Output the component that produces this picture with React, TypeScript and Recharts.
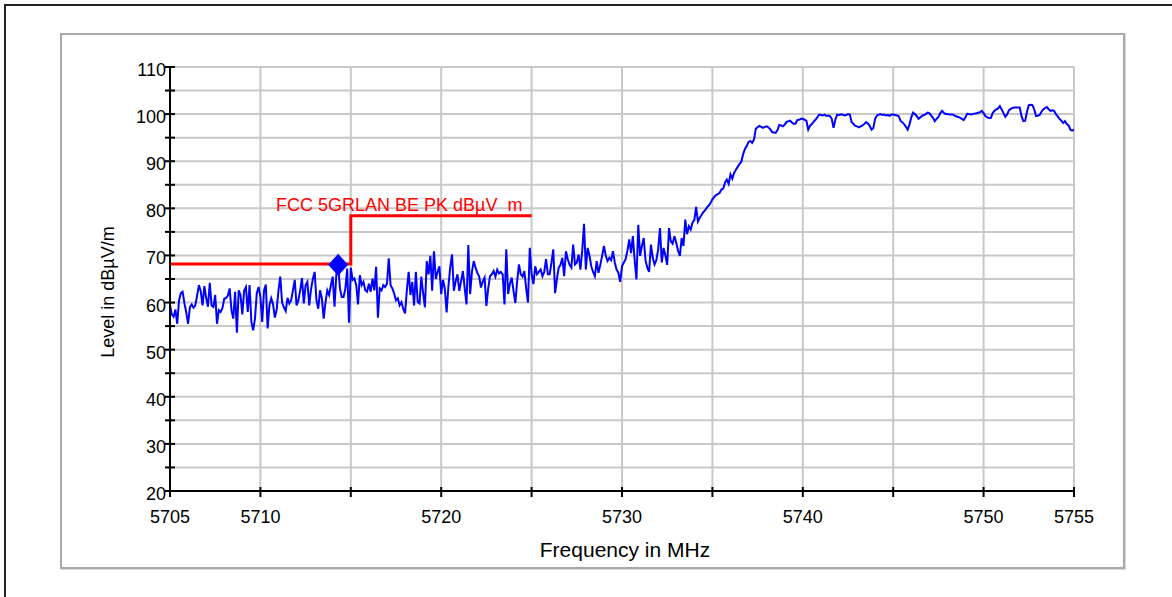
import React from 'react';
import { ComposedChart, Line, Scatter, XAxis, YAxis, CartesianGrid } from 'recharts';

const FONT = '"Liberation Sans", Arial, Helvetica, sans-serif';

// sweep grid of the analyzer: 5705 .. 5755 MHz in 0.1 MHz steps
const SWEEP_START = 5705;
const SWEEP_STEP = 0.1;

// measured level in dBµV/m, one row per MHz
const levels = [
  59.5, 57.5, 57.0, 58.5, 55.5, 60.5, 62.0, 62.3, 59.8, 57.9, // 5705
  55.5, 59.0, 59.6, 58.9, 59.4, 61.5, 63.7, 62.4, 59.4, 63.5, // 5706
  61.0, 59.1, 64.2, 59.4, 59.1, 61.6, 55.5, 58.4, 58.0, 58.8, // 5707
  60.8, 61.0, 61.5, 63.0, 58.4, 56.6, 62.3, 53.6, 62.6, 61.6, // 5708
  57.5, 62.5, 63.3, 58.0, 63.7, 55.9, 54.1, 56.6, 62.0, 63.3, // 5709
  61.2, 55.9, 62.5, 63.8, 54.5, 59.4, 60.9, 59.6, 56.8, 58.5, // 5710
  62.6, 65.5, 60.0, 59.0, 58.2, 61.0, 59.8, 60.5, 62.6, 64.8, // 5711
  59.4, 60.5, 62.6, 65.2, 59.8, 63.7, 64.4, 59.4, 62.8, 65.0, // 5712
  66.5, 60.5, 58.7, 62.6, 60.9, 56.6, 60.1, 62.6, 61.6, 63.7, // 5713
  65.5, 59.1, 66.0, 68.0, 63.0, 61.2, 61.2, 63.0, 67.2, 55.7, // 5714
  67.4, 64.8, 65.1, 63.7, 59.6, 65.8, 63.7, 64.4, 62.6, 62.3, // 5715
  64.0, 62.3, 65.1, 62.6, 67.6, 56.8, 63.0, 62.6, 63.7, 63.3, // 5716
  64.0, 69.4, 63.7, 63.0, 61.9, 60.5, 60.9, 59.4, 60.1, 58.7, // 5717
  57.7, 62.6, 66.5, 61.6, 64.4, 59.4, 66.5, 60.1, 59.8, 65.5, // 5718
  62.0, 59.0, 68.8, 66.0, 69.9, 62.5, 70.9, 65.0, 66.5, 67.7, // 5719
  61.8, 64.8, 63.0, 57.9, 63.5, 67.5, 70.2, 62.5, 64.5, 66.0, // 5720
  62.5, 64.5, 66.7, 63.0, 59.6, 72.2, 61.8, 66.5, 68.8, 67.4, // 5721
  66.3, 65.5, 63.2, 64.5, 65.3, 59.3, 63.0, 65.6, 66.0, 66.7, // 5722
  65.5, 67.0, 66.2, 66.5, 66.0, 59.6, 71.3, 61.8, 64.0, 65.3, // 5723
  62.5, 59.9, 64.5, 68.1, 66.0, 65.5, 66.7, 63.0, 60.0, 71.6, // 5724
  66.0, 63.9, 67.7, 66.0, 66.5, 67.0, 65.6, 66.5, 69.2, 66.0, // 5725
  66.0, 68.5, 71.3, 62.0, 65.0, 67.4, 68.0, 69.5, 65.6, 70.9, // 5726
  69.2, 68.0, 67.4, 72.3, 68.1, 68.5, 70.2, 67.0, 71.0, 76.7, // 5727
  67.0, 71.6, 70.0, 67.7, 66.5, 65.6, 68.8, 66.3, 68.0, 69.9, // 5728
  72.0, 70.0, 68.8, 69.5, 69.0, 70.9, 68.5, 67.0, 66.3, 64.4, // 5729
  67.7, 68.5, 69.2, 71.0, 73.4, 70.5, 74.1, 69.0, 64.9, 76.5, // 5730
  69.9, 72.0, 73.7, 69.0, 67.4, 66.5, 72.3, 69.5, 68.1, 69.0, // 5731
  71.3, 75.8, 68.5, 71.6, 70.0, 68.0, 75.8, 73.0, 72.5, 74.1, // 5732
  72.7, 71.0, 69.9, 73.7, 72.0, 77.6, 74.5, 76.2, 75.5, 77.0, // 5733
  77.5, 80.3, 77.2, 78.0, 78.6, 79.2, 79.6, 80.2, 80.6, 81.2, // 5734
  81.9, 82.4, 82.8, 83.0, 83.3, 84.0, 84.2, 85.5, 86.1, 85.2, // 5735
  87.2, 86.3, 87.5, 88.2, 88.8, 89.4, 89.9, 91.5, 92.6, 93.2, // 5736
  94.1, 94.3, 93.9, 94.6, 96.9, 97.2, 97.5, 97.3, 97.1, 97.3, // 5737
  97.4, 97.2, 96.8, 96.2, 96.1, 96.0, 96.6, 97.7, 97.6, 97.4, // 5738
  97.8, 98.3, 98.5, 98.6, 98.2, 97.9, 98.0, 98.75, 98.8, 99.0, // 5739
  99.0, 98.8, 98.6, 96.7, 97.5, 97.9, 98.4, 98.8, 99.3, 99.9, // 5740
  99.8, 99.7, 99.9, 99.6, 99.7, 99.6, 99.0, 97.1, 98.8, 99.9, // 5741
  99.8, 99.9, 99.9, 99.7, 99.8, 100.0, 99.9, 98.3, 97.9, 97.5, // 5742
  97.4, 97.2, 97.4, 97.6, 97.9, 98.3, 98.0, 97.5, 96.7, 97.0, // 5743
  99.0, 99.7, 99.9, 100.0, 99.8, 99.9, 99.7, 99.8, 99.65, 99.9, // 5744
  99.9, 99.8, 99.7, 99.6, 98.6, 98.3, 97.9, 97.3, 96.7, 97.8, // 5745
  99.3, 100.3, 100.0, 99.6, 99.0, 99.3, 99.65, 99.8, 100.0, 100.3, // 5746
  100.2, 99.7, 99.2, 98.5, 99.0, 99.4, 100.2, 100.7, 100.3, 100.0, // 5747
  100.0, 99.9, 99.9, 99.9, 99.7, 99.5, 99.4, 99.2, 99.0, 98.75, // 5748
  99.4, 100.1, 100.0, 99.9, 100.0, 100.1, 100.2, 100.3, 100.4, 100.7, // 5749
  100.2, 99.6, 99.3, 99.2, 99.2, 100.2, 100.7, 101.0, 101.2, 101.7, // 5750
  101.0, 100.2, 99.4, 99.9, 100.8, 101.1, 101.3, 101.4, 101.4, 101.4, // 5751
  101.4, 99.5, 98.5, 98.6, 100.5, 101.9, 102.0, 101.9, 101.0, 99.6, // 5752
  99.65, 99.8, 100.5, 101.0, 101.3, 101.5, 101.0, 100.7, 100.8, 100.7, // 5753
  100.0, 99.5, 99.0, 98.6, 98.1, 98.5, 97.9, 97.6, 96.7, 96.5, // 5754
  96.7, // 5755
];

// limit line (FCC 5GRLAN BE PK)
const limitFreqs = [5705, 5715, 5715, 5725];
const limitLevels = [68.2, 68.2, 78.4, 78.4];
const limitName = 'FCC 5GRLAN BE PK dBµV  m';

// marker
const markerFreqs = [5714.3];
const markerLevels = [68.0];

const xTicks = [5705, 5710, 5715, 5720, 5725, 5730, 5735, 5740, 5745, 5750, 5755];
const xLabelTicks = [5705, 5710, 5720, 5730, 5740, 5750, 5755];
const yTicks = [20, 25, 30, 35, 40, 45, 50, 55, 60, 65, 70, 75, 80, 85, 90, 95, 100, 105, 110];
const yLabelTicks = [20, 30, 40, 50, 60, 70, 80, 90, 100, 110];

const traceData = levels.map((v, i) => ({ f: Math.round((SWEEP_START + i * SWEEP_STEP) * 10) / 10, v }));
const limitData = limitFreqs.map((f, i) => ({ f, v: limitLevels[i] }));
const markerData = markerFreqs.map((f, i) => ({ f, v: markerLevels[i] }));

const renderXTick = (props: any) => {
  const { x, y, payload } = props;
  return (
    <g>
      <line x1={x} x2={x} y1={y - 4} y2={y + 6} stroke="#000" strokeWidth={2} />
      {xLabelTicks.includes(payload.value) && (
        <text x={x} y={y + 32} textAnchor="middle" fontSize={18} fontFamily={FONT} fill="#000">
          {payload.value}
        </text>
      )}
    </g>
  );
};

const renderYTick = (props: any) => {
  const { x, y, payload } = props;
  return (
    <g>
      <line x1={x - 5} x2={x + 5} y1={y} y2={y} stroke="#000" strokeWidth={2} />
      {yLabelTicks.includes(payload.value) && (
        <text x={x - 4} y={y + 9} textAnchor="end" fontSize={18} fontFamily={FONT} fill="#000">
          {payload.value}
        </text>
      )}
    </g>
  );
};

const renderDiamond = (props: any) => {
  const { cx, cy } = props;
  return (
    <polygon
      points={`${cx},${cy - 11} ${cx + 10},${cy} ${cx},${cy + 11} ${cx - 10},${cy}`}
      fill="#0000ff"
    />
  );
};

export default function App() {
  return (
    <div
      style={{
        position: 'fixed',
        left: 0,
        top: 0,
        width: 1172,
        height: 597,
        overflow: 'hidden',
        background: '#fff',
        fontFamily: FONT,
      }}
    >
      {/* outer frame */}
      <div
        style={{
          position: 'absolute',
          left: 4,
          top: 4,
          width: 2000,
          height: 2000,
          borderLeft: '2px solid #222',
          borderTop: '2px solid #222',
        }}
      />
      {/* chart box */}
      <div
        style={{
          position: 'absolute',
          left: 60,
          top: 33,
          width: 1065,
          height: 536,
          boxSizing: 'border-box',
          border: '2px solid #a8a8a8',
          boxShadow: '1px 1px 1px #dedede',
        }}
      />
      <div style={{ position: 'absolute', left: 0, top: 0 }}>
        <ComposedChart width={1172} height={597} margin={{ top: 67, right: 98, bottom: 76, left: 110 }}>
          <CartesianGrid stroke="#c8c8c8" strokeWidth={2} />
          <XAxis
            dataKey="f"
            type="number"
            domain={[5705, 5755]}
            ticks={xTicks}
            interval={0}
            allowDataOverflow
            tick={renderXTick}
            tickLine={false}
            tickSize={0}
            tickMargin={0}
            height={30}
            axisLine={{ stroke: '#000', strokeWidth: 2 }}
          />
          <YAxis
            dataKey="v"
            type="number"
            domain={[20, 110]}
            ticks={yTicks}
            interval={0}
            allowDataOverflow
            tick={renderYTick}
            tickLine={false}
            tickSize={0}
            tickMargin={0}
            width={60}
            axisLine={{ stroke: '#000', strokeWidth: 2 }}
          />
          <Line
            data={traceData}
            dataKey="v"
            type="linear"
            stroke="#0000ff"
            strokeWidth={2}
            dot={false}
            activeDot={false}
            isAnimationActive={false}
          />
          <Line
            data={limitData}
            dataKey="v"
            type="linear"
            stroke="#ff0000"
            strokeWidth={3}
            dot={false}
            activeDot={false}
            isAnimationActive={false}
          />
          <Scatter data={markerData} dataKey="v" fill="#0000ff" shape={renderDiamond} isAnimationActive={false} />
        </ComposedChart>
      </div>
      {/* limit line name */}
      <div
        style={{
          position: 'absolute',
          left: 276,
          top: 196,
          fontSize: 18,
          lineHeight: '18px',
          color: '#ff0000',
          whiteSpace: 'pre',
        }}
      >
        {limitName}
      </div>
      {/* axis titles */}
      <div
        style={{
          position: 'absolute',
          left: 425,
          top: 539,
          width: 400,
          textAlign: 'center',
          fontSize: 21,
          lineHeight: '21px',
          color: '#000',
        }}
      >
        Frequency in MHz
      </div>
      <div
        style={{
          position: 'absolute',
          left: 108 - 150,
          top: 292 - 9,
          width: 300,
          height: 18,
          textAlign: 'center',
          fontSize: 18,
          lineHeight: '18px',
          color: '#000',
          transform: 'rotate(-90deg)',
          transformOrigin: 'center',
          whiteSpace: 'nowrap',
        }}
      >
        Level in dBµV/m
      </div>
    </div>
  );
}
